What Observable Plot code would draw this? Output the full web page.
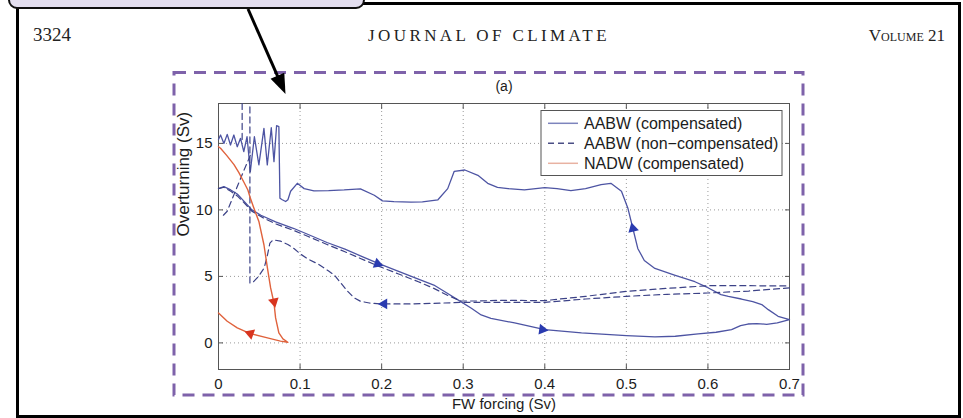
<!DOCTYPE html>
<html><head><meta charset="utf-8">
<script src="https://cdn.jsdelivr.net/npm/d3@7"></script>
<script src="https://cdn.jsdelivr.net/npm/@observablehq/plot@0.6"></script>
<style>
html,body{margin:0;padding:0;background:#fff;}
#page{position:relative;width:963px;height:418px;overflow:hidden;background:#fff;font-family:"Liberation Sans",Arial,Helvetica,sans-serif;}
#chart{position:absolute;left:0;top:0;}
#overlay{position:absolute;left:0;top:0;pointer-events:none;}
#callout{position:absolute;left:8px;top:-32px;width:357px;height:41px;background:#e4dff0;border:2.5px solid #111;border-radius:9px;box-sizing:border-box;}
#border{position:absolute;left:16px;top:2px;width:945px;height:416px;border:3px solid #000;box-sizing:border-box;pointer-events:none;}
</style></head><body>
<div id="page">
  <div id="chart"></div>
  <svg id="overlay" width="963" height="418"></svg>
  <div id="border"></div>
  <div id="callout"></div>
</div>
<script>
// ---------- data ----------
const xTicks = [0, 0.1, 0.2, 0.3, 0.4, 0.5, 0.6, 0.7];
const yTicks = [0, 5, 10, 15];
const xTickLabels = ["0", "0.1", "0.2", "0.3", "0.4", "0.5", "0.6", "0.7"];
const yTickLabels = ["0", "5", "10", "15"];
const titleText = "(a)";
const xLabel = "FW forcing (Sv)";
const yLabel = "Overturning (Sv)";
const legendLabels = ["AABW (compensated)", "AABW (non\u2212compensated)", "NADW (compensated)"];
const headerLeft = "3324";
const headerCenter = "JOURNAL OF CLIMATE";
const headerRight = "Volume 21";

// AABW compensated (solid): lower branch left->right, then upper branch right->left
const aabwCompX = [0, 0.0066, 0.015, 0.023, 0.032, 0.041, 0.052, 0.07, 0.0925, 0.11, 0.133, 0.155, 0.174, 0.195, 0.22, 0.245, 0.264, 0.28, 0.297, 0.31, 0.322, 0.334, 0.363, 0.4, 0.445, 0.5, 0.535, 0.56, 0.588, 0.61, 0.629, 0.64, 0.649, 0.66, 0.672, 0.685, 0.7,
  0.686, 0.674, 0.666, 0.655, 0.641, 0.625, 0.616, 0.6, 0.584, 0.559, 0.535, 0.522, 0.514, 0.508, 0.502, 0.494, 0.481, 0.469, 0.45, 0.432, 0.415, 0.4, 0.375, 0.355, 0.342, 0.33, 0.318, 0.302, 0.289, 0.281, 0.269, 0.25, 0.236, 0.215, 0.201, 0.191, 0.174, 0.154, 0.135, 0.117, 0.105, 0.0966, 0.0884, 0.0851, 0.0823, 0.0782, 0.0753,
  0.074, 0.0712, 0.068, 0.0647, 0.0598, 0.0557, 0.0495, 0.044, 0.039, 0.035, 0.031, 0.027, 0.023, 0.0188, 0.0147, 0.0107, 0.0066, 0.0025, 0];
const aabwCompY = [11.6, 11.75, 11.5, 11.2, 10.6, 10.0, 9.6, 9.1, 8.6, 8.15, 7.55, 7.05, 6.55, 6.0, 5.4, 4.8, 4.35, 3.75, 3.1, 2.6, 2.1, 1.85, 1.5, 1.0, 0.75, 0.55, 0.45, 0.5, 0.68, 0.8, 1.0, 1.3, 1.42, 1.45, 1.4, 1.5, 1.75,
  2.0, 2.5, 2.88, 3.1, 3.3, 3.5, 3.63, 4.15, 4.6, 5.1, 5.6, 6.2, 7.1, 8.6, 10.1, 11.4, 12.0, 11.9, 11.6, 11.45, 11.6, 11.68, 11.5, 11.6, 11.7, 12.0, 12.6, 13.0, 12.9, 11.6, 10.76, 10.6, 10.58, 10.62, 10.68, 11.1, 11.58, 11.5, 11.45, 11.43, 11.6, 12.0, 11.4, 10.76, 10.63, 10.76, 10.88,
  16.26, 16.33, 13.63, 16.18, 13.38, 16.13, 13.38, 15.5, 12.88, 15.5, 14.38, 15.38, 14.75, 15.63, 14.88, 15.68, 15.0, 15.63, 15.3];

// AABW non-compensated (dashed), drawn as separate pieces
const nonCompFwdX = [0, 0.0066, 0.015, 0.023, 0.032, 0.041, 0.055, 0.07, 0.0925, 0.11, 0.133, 0.155, 0.174, 0.195, 0.22, 0.245, 0.264, 0.28, 0.297, 0.32, 0.342, 0.4, 0.45, 0.5, 0.55, 0.6, 0.65, 0.7];
const nonCompFwdY = [11.6, 11.7, 11.4, 11.05, 10.5, 9.9, 9.4, 8.95, 8.45, 8.0, 7.4, 6.85, 6.35, 5.8, 5.2, 4.6, 4.1, 3.6, 3.15, 3.15, 3.2, 3.18, 3.5, 3.88, 4.1, 4.3, 4.3, 4.28];
const nonCompRetX = [0.7, 0.65, 0.6, 0.55, 0.5, 0.45, 0.4, 0.342, 0.3, 0.277, 0.236, 0.2, 0.185, 0.174, 0.166, 0.158, 0.15, 0.142, 0.135, 0.123, 0.11, 0.1, 0.0925, 0.085, 0.076, 0.067, 0.063, 0.06, 0.056, 0.049, 0.043, 0.0385, 0.0385];
const nonCompRetY = [4.13, 3.9, 3.75, 3.65, 3.5, 3.3, 3.05, 3.05, 3.05, 3.0, 2.93, 2.93, 3.0, 3.13, 3.4, 3.9, 4.5, 5.1, 5.4, 5.9, 6.3, 6.7, 7.1, 7.4, 7.65, 7.75, 7.5, 6.6, 5.63, 5.0, 4.6, 4.5, 18];
const nonCompSpikeX = [0.006, 0.0107, 0.02, 0.03, 0.039];
const nonCompSpikeY = [9.6, 9.9, 11.3, 12.8, 14.1];
const nonCompJumpX = [0.029, 0.029];
const nonCompJumpY = [15.3, 18];

// NADW compensated (red)
const nadwX = [0, 0.0025, 0.01, 0.019, 0.025, 0.031, 0.036, 0.039, 0.043, 0.0495, 0.0557, 0.06, 0.0639, 0.068, 0.07, 0.074, 0.079, 0.085, 0.076, 0.06, 0.039, 0.023, 0.0107, 0];
const nadwY = [14.75, 14.63, 14.1, 13.4, 12.8, 12.1, 11.5, 10.9, 10.2, 9.13, 7.38, 5.63, 4.13, 3.0, 1.88, 0.75, 0.3, 0.05, 0.13, 0.38, 0.7, 1.13, 1.63, 2.25];

// direction arrowheads
const arrowX = [0.195, 0.203, 0.397, 0.508, 0.068, 0.039];
const arrowY = [5.95, 2.93, 1.0, 8.6, 3.1, 0.7];
const arrowAngle = [110, -90, 98, -14, 168, 290];
const arrowSeries = ["blue", "blue", "blue", "blue", "red", "red"];

// ---------- build ----------
const rows = (xs, ys, seg) => xs.map((x, i) => ({x, y: ys[i], seg}));
const compRows = rows(aabwCompX, aabwCompY, "comp");
const nonCompRows = [
  ...rows(nonCompFwdX, nonCompFwdY, "fwd"),
  ...rows(nonCompRetX, nonCompRetY, "ret"),
  ...rows(nonCompSpikeX, nonCompSpikeY, "spike"),
  ...rows(nonCompJumpX, nonCompJumpY, "jump")
];
const nadwRows = rows(nadwX, nadwY, "nadw");
const arrowRows = arrowX.map((x, i) => ({x, y: arrowY[i], a: arrowAngle[i], s: arrowSeries[i]}));

const blue = "#4d54a3", blueDash = "#3c4287", red = "#e0623c";
const fmtX = d => xTickLabels[xTicks.indexOf(d)] ?? String(d);
const fmtY = d => yTickLabels[yTicks.indexOf(d)] ?? String(d);

const chart = Plot.plot({
  width: 963, height: 418,
  marginLeft: 218, marginRight: 174, marginTop: 103, marginBottom: 49,
  x: {domain: [0, 0.7]},
  y: {domain: [-2, 18]},
  style: {fontFamily: "'Liberation Sans', Arial, Helvetica, sans-serif", fontSize: "15px", color: "#1c1c1c", background: "transparent"},
  marks: [
    Plot.gridX(xTicks.slice(1, -1), {stroke: "#9a9a9a", strokeOpacity: 1, strokeDasharray: "1,3"}),
    Plot.gridY(yTicks, {stroke: "#9a9a9a", strokeOpacity: 1, strokeDasharray: "1,3"}),
    Plot.frame({stroke: "#555"}),
    Plot.axisX(xTicks, {anchor: "bottom", tickSize: 5, dy: -5, fill: "none", stroke: "#555", label: null}),
    Plot.axisX(xTicks, {anchor: "top", tickSize: 5, dy: 5, fill: "none", stroke: "#555", label: null}),
    Plot.axisY(yTicks, {anchor: "left", tickSize: 5, dx: 5, fill: "none", stroke: "#555", label: null}),
    Plot.axisY(yTicks, {anchor: "right", tickSize: 5, dx: -5, fill: "none", stroke: "#555", label: null}),
    Plot.axisX(xTicks, {anchor: "bottom", tickSize: 0, tickPadding: 9, tickFormat: fmtX, label: xLabel, labelAnchor: "center", labelOffset: 39, labelArrow: "none"}),
    Plot.axisY(yTicks, {anchor: "left", tickSize: 0, tickPadding: 6, tickFormat: fmtY, label: null}),
    Plot.text([yLabel], {frameAnchor: "left", rotate: -90, dx: -42, lineAnchor: "top", fontSize: 17, text: d => d}),
    Plot.text([titleText], {frameAnchor: "top", dy: -13, lineAnchor: "bottom", fontSize: 14, text: d => d}),
    Plot.line(compRows, {x: "x", y: "y", z: "seg", stroke: blue, strokeWidth: 1.3}),
    Plot.line(nonCompRows, {x: "x", y: "y", z: "seg", stroke: blueDash, strokeWidth: 1.2, strokeDasharray: "6,4"}),
    Plot.line(nadwRows, {x: "x", y: "y", z: "seg", stroke: red, strokeWidth: 1.4}),
    Plot.dot(arrowRows.filter(d => d.s === "blue"), {x: "x", y: "y", symbol: "triangle", r: 4, rotate: "a", fill: "#2a3bb0", stroke: "none"}),
    Plot.dot(arrowRows.filter(d => d.s === "red"), {x: "x", y: "y", symbol: "triangle", r: 4, rotate: "a", fill: "#d8341f", stroke: "none"})
  ]
});
document.getElementById("chart").appendChild(chart);

// ---------- page decorations & legend (overlay) ----------
const ov = d3.select("#overlay");
// purple dashed frame
ov.append("rect").attr("x", 174).attr("y", 72.5).attr("width", 629).attr("height", 322.5)
  .attr("fill", "none").attr("stroke", "#7e62aa").attr("stroke-width", 3).attr("stroke-dasharray", "12,8");
// header
ov.append("text").attr("x", 33).attr("y", 41).attr("font-family", "'Liberation Serif','Times New Roman',serif")
  .attr("font-size", 19).attr("fill", "#222").text(headerLeft);
ov.append("text").attr("x", 489).attr("y", 41).attr("text-anchor", "middle").attr("font-family", "'Liberation Serif','Times New Roman',serif")
  .attr("font-size", 17).attr("letter-spacing", 3.4).attr("fill", "#222").text(headerCenter);
ov.append("text").attr("x", 945).attr("y", 41).attr("text-anchor", "end").attr("font-family", "'Liberation Serif','Times New Roman',serif")
  .attr("font-size", 17).attr("font-variant", "small-caps").attr("fill", "#222").text(headerRight);
// callout arrow
const tip = [285.5, 94], start = [248, 9];
const dx = tip[0] - start[0], dy = tip[1] - start[1], L = Math.hypot(dx, dy), ux = dx / L, uy = dy / L;
const hl = 20, hw = 7.5, bx = tip[0] - ux * hl, by = tip[1] - uy * hl;
ov.append("line").attr("x1", start[0]).attr("y1", start[1]).attr("x2", bx + ux * 2).attr("y2", by + uy * 2)
  .attr("stroke", "#000").attr("stroke-width", 3);
ov.append("polygon").attr("points", [[bx - uy * hw, by + ux * hw], [bx + uy * hw, by - ux * hw], tip].map(p => p.join(",")).join(" "))
  .attr("fill", "#000");
// legend
const lg = ov.append("g");
lg.append("rect").attr("x", 541).attr("y", 110.5).attr("width", 241).attr("height", 65).attr("fill", "#fff").attr("stroke", "#555").attr("stroke-width", 1);
const swatch = [{stroke: "#7d84bd", dash: null}, {stroke: "#4a4f85", dash: "6,4"}, {stroke: "#e8b2a2", dash: null}];
legendLabels.forEach((t, i) => {
  const cy = 123.3 + i * 20;
  lg.append("line").attr("x1", 548).attr("x2", 578).attr("y1", cy).attr("y2", cy)
    .attr("stroke", swatch[i].stroke).attr("stroke-width", 1.5).attr("stroke-dasharray", swatch[i].dash);
  lg.append("text").attr("x", 584).attr("y", cy + 5.5).attr("font-family", "'Liberation Sans',Arial,sans-serif")
    .attr("font-size", 16).attr("fill", "#1c1c1c").text(t);
});
</script>
</body></html>
